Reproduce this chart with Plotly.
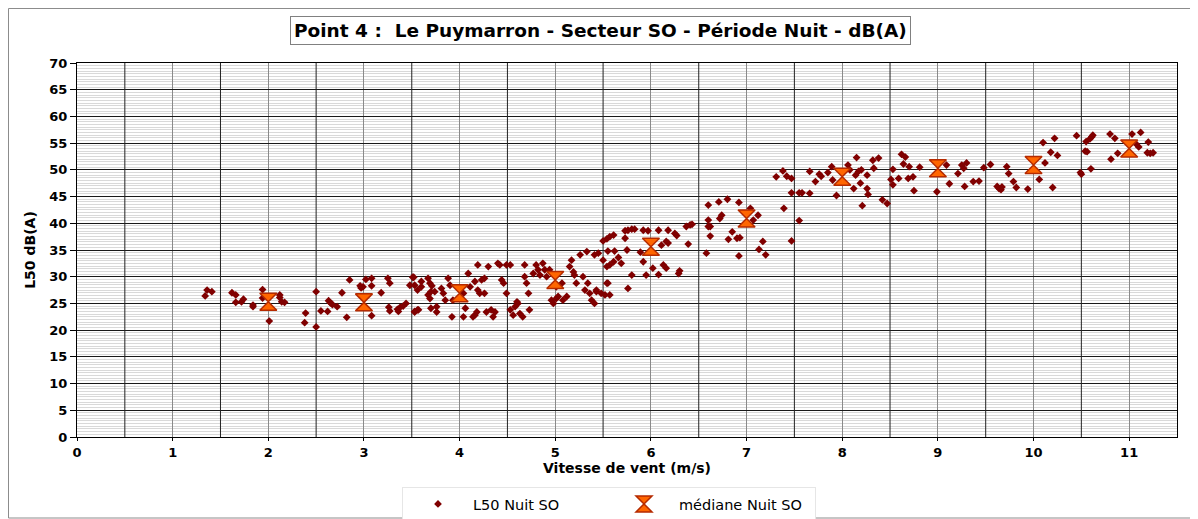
import plotly.graph_objects as go

# ---- data -------------------------------------------------------------
l50_x = [
    1.34, 1.36, 1.41, 1.62, 1.66, 1.66, 1.72, 1.74, 1.84, 1.84, 1.94, 1.94, 2.01, 2.12, 2.12, 2.14, 2.17,
    2.39, 2.38, 2.50, 2.50, 2.55, 2.62, 2.63, 2.65, 2.67, 2.72, 2.77, 2.82, 2.85, 2.96, 2.97, 2.99,
    3.02, 3.08, 3.08, 3.08, 3.18, 3.25, 3.27, 3.26, 3.27, 3.35, 3.36, 3.38, 3.41, 3.44, 3.48, 3.51, 3.53, 3.57,
    3.52, 3.53, 3.56, 3.60, 3.53, 3.56, 3.60, 3.67, 3.69, 3.71, 3.70, 3.67, 3.69, 3.70, 3.76, 3.76, 3.74,
    3.81, 3.83, 3.85, 3.88, 3.90, 3.92, 3.93, 4.04, 4.06, 4.04, 4.09, 4.11, 4.14, 4.16, 4.18, 4.16, 4.19,
    4.19, 4.21, 4.23, 4.26, 4.26, 4.28, 4.30, 4.33, 4.35, 4.37, 4.40, 4.42, 4.44, 4.46, 4.49, 4.53, 4.49,
    4.53, 4.56, 4.58, 4.60, 4.61, 4.63, 4.66, 4.68, 4.68, 4.70, 4.72, 4.73, 4.77, 4.80, 4.82, 4.84, 4.87,
    4.89, 4.91, 4.94, 4.96, 4.98, 5.01, 5.03, 5.01, 5.07, 5.08, 5.12, 5.15, 5.17, 5.19, 5.20, 5.22, 5.26,
    5.29, 5.31, 5.33, 5.34, 5.36, 5.38, 5.41, 5.43, 5.48, 5.50, 5.54, 5.41, 5.45,
    5.50, 5.54, 5.57, 5.61, 5.62, 5.55, 5.73, 5.76, 5.80, 5.83, 5.73, 5.92, 5.97, 6.08, 6.18, 6.25, 6.27,
    6.37, 6.41, 6.43, 5.75, 5.89, 6.11, 6.16, 6.18, 6.39, 5.66, 5.61, 5.69, 5.57, 5.54, 5.92, 6.02, 6.13,
    6.16, 6.29, 6.30, 5.80, 5.95, 6.08, 5.55, 5.76, 5.52, 5.57, 5.43,
    6.58, 6.60, 6.60, 6.60, 6.62, 6.62, 6.71, 6.72, 6.74, 6.80, 6.81, 6.85, 6.90, 6.93, 6.92, 6.92, 7.04,
    7.07, 7.12, 7.17, 7.13, 7.20, 7.31, 7.38, 7.42, 7.47, 7.39, 7.47, 7.47, 7.55, 7.55, 7.58, 7.66, 7.66,
    7.72, 7.76, 7.78, 7.85, 7.89, 7.90, 7.94, 8.06, 8.08, 8.12, 8.14, 8.17, 8.19, 8.20, 8.21, 8.26, 8.27,
    8.26, 8.33, 8.15, 8.32, 8.38, 8.42, 8.47, 8.51, 8.53, 8.53, 8.59, 8.64, 8.70, 8.69, 8.74, 8.75, 8.81,
    8.62, 8.66, 8.99,
    9.09, 9.12, 9.21, 9.25, 9.27, 9.30, 9.28, 9.37, 9.43, 9.48, 9.55, 9.62, 9.64, 9.66, 9.67, 9.72, 9.74,
    9.79, 9.82, 9.94, 10.06, 10.10, 10.12, 10.18, 10.20, 10.22, 10.25, 10.45, 10.49, 10.50, 10.54, 10.56,
    10.55, 10.59, 10.61, 10.62, 10.60, 10.80, 10.81, 10.85, 10.88, 11.03, 11.07, 11.10, 11.12, 11.20,
    11.19, 11.22, 11.25,
]
l50_y = [
    26.4, 27.5, 27.2, 27.0, 26.6, 25.2, 25.3, 25.8, 24.7, 24.4, 27.6, 26.0, 21.7, 26.6, 26.1, 25.3, 25.2,
    23.2, 21.4, 27.2, 20.6, 23.6, 23.5, 25.5, 25.1, 24.8, 24.4, 27.0, 22.4, 29.4, 28.3, 27.9, 28.1,
    29.5, 29.7, 28.3, 22.7, 27.0, 29.7, 28.8, 24.3, 23.6, 23.9, 23.5, 24.3, 24.5, 25.0, 28.4, 29.9, 23.5, 23.8,
    29.9, 28.4, 27.5, 28.1, 23.4, 23.8, 29.1, 29.7, 28.8, 28.3, 27.2, 26.6, 25.9, 24.1, 23.4, 24.4, 27.2,
    27.8, 26.9, 25.6, 29.7, 28.4, 22.5, 25.6, 26.9, 24.1, 22.5, 30.6, 28.1, 22.5, 22.8, 23.4, 29.1, 32.2,
    27.5, 26.9, 29.4, 29.7, 26.9, 23.4, 31.9, 23.8, 22.5, 23.4, 32.5, 32.2, 29.4, 28.8, 32.2, 32.2, 26.9,
    23.8, 22.8, 24.4, 25.3, 25.0, 23.1, 22.5, 32.2, 30.0, 28.8, 26.9, 23.8, 30.6, 32.2, 31.3, 30.3, 32.5,
    31.3, 30.0, 31.3, 25.6, 25.0, 25.9, 26.3, 28.1, 28.8, 25.6, 26.3, 31.9, 33.1, 30.9, 30.3, 28.8, 34.1,
    30.0, 27.5, 34.7, 28.8, 26.9, 25.6, 25.0, 27.2, 26.9, 33.1, 28.8, 34.1, 34.4,
    36.7, 37.1, 37.5, 37.8, 34.8, 34.8, 38.6, 38.7, 38.9, 38.9, 37.2, 38.7, 38.6, 38.7, 38.7, 38.1, 37.7,
    39.4, 39.7, 39.8, 35.0, 34.6, 35.9, 36.6, 36.3, 36.1, 33.6, 32.8, 32.5, 32.2, 31.9, 32.8, 31.6, 32.2,
    31.6, 30.6, 31.1, 30.3, 30.3, 30.4, 28.8, 27.8, 26.6, 26.6, 27.5,
    34.4, 43.4, 40.6, 39.4, 39.4, 37.6, 44.0, 40.9, 41.5, 44.5, 37.0, 38.4, 37.2, 37.3, 43.9, 33.9, 42.8,
    40.6, 41.5, 36.6, 35.1, 34.1, 48.7, 49.8, 48.8, 48.4, 42.8, 45.7, 36.7, 40.5, 45.7, 45.7, 49.7, 45.6,
    47.8, 49.2, 48.8, 49.5, 50.6, 48.1, 45.2, 50.9, 50.0, 46.5, 49.0, 49.7, 47.5, 50.0, 43.3, 46.5, 45.4,
    49.0, 50.3, 52.3, 51.8, 52.2, 44.4, 43.7, 48.2, 47.2, 50.1, 48.4, 51.1, 50.6, 48.4, 48.7, 46.1, 50.5,
    52.9, 52.4, 45.9,
    50.9, 47.4, 49.3, 50.9, 50.3, 51.3, 46.9, 47.8, 47.9, 50.4, 51.0, 46.9, 46.5, 46.3, 46.8, 50.6, 49.3,
    47.8, 46.7, 46.4, 48.2, 55.1, 51.3, 53.3, 46.7, 55.9, 52.7, 56.4, 49.5, 49.2, 53.5, 53.4,
    55.3, 55.8, 56.2, 56.5, 50.2, 56.7, 52.0, 55.9, 53.1, 56.7, 54.9, 54.3, 57.0, 55.2,
    53.2, 53.1, 53.2,
]

median_x = [2, 3, 4, 5, 6, 7, 8, 9, 10, 11]
median_y = [25.3, 25.2, 26.9, 29.4, 35.6, 40.9, 48.7, 50.3, 50.9, 54.0]

title_text = "Point 4 :  Le Puymarron - Secteur SO - Période Nuit - dB(A)"
x_title = "Vitesse de vent (m/s)"
y_title = "L50 dB(A)"
x_ticks = list(range(0, 12))
y_ticks = list(range(0, 75, 5))
x_half_grid = [0.5, 1.5, 2.5, 3.5, 4.5, 5.5, 6.5, 7.5, 8.5, 9.5, 10.5]

# ---- figure -----------------------------------------------------------
FONT = "DejaVu Sans"

fig = go.Figure()
fig.add_trace(go.Scatter(
    x=l50_x, y=l50_y, mode="markers", name="L50 Nuit SO",
    marker=dict(symbol="diamond", size=6, color="#800000", line=dict(width=0)),
))
fig.add_trace(go.Scatter(
    x=median_x, y=median_y, mode="markers", name="médiane Nuit SO",
    marker=dict(symbol="hourglass", size=17, color="#ff6600",
                line=dict(color="#b52a00", width=1.5)),
))

# the page body has an 8 px default margin, so the figure is placed at (8, 8)
OFF = 8
W, H = 1198 - OFF, 519 - OFF
L, R, T, B = 77 - OFF, 21, 63 - OFF, 82
pw, ph = W - L - R, H - T - B


def px_x(page_x):
    return (page_x - OFF - L) / pw


def px_y(page_y):
    return (H - B - (page_y - OFF)) / ph


fig.update_layout(
    width=W, height=H,
    margin=dict(l=L, r=R, t=T, b=B, autoexpand=False),
    paper_bgcolor="white", plot_bgcolor="white",
    font=dict(family=FONT, color="black"),
    showlegend=True,
    legend=dict(
        orientation="h", x=px_x(609), xanchor="center", y=px_y(487), yanchor="top",
        bordercolor="#e6e6e6", borderwidth=1, bgcolor="white",
        font=dict(family=FONT, size=14.5, color="black"),
        entrywidth=131, itemwidth=60, itemsizing="trace",
    ),
    xaxis=dict(
        range=[0, 11.5], tickvals=x_ticks, ticktext=["<b>%d</b>" % v for v in x_ticks],
        tickfont=dict(family=FONT, size=13, color="black"),
        ticks="outside", ticklen=3, tickcolor="black",
        showline=True, linecolor="black", linewidth=1, mirror=True,
        showgrid=True, gridcolor="#8a8a8a", gridwidth=1,
        minor=dict(showgrid=False),
        zeroline=False, automargin=False,
        title=dict(text="<b>" + x_title + "</b>", font=dict(family=FONT, size=14, color="black"), standoff=4),
    ),
    yaxis=dict(
        range=[0, 70], tickvals=y_ticks, ticktext=["<b>%d</b>" % v for v in y_ticks],
        tickfont=dict(family=FONT, size=13, color="black"),
        ticks="outside", ticklen=6, tickcolor="black",
        showline=True, linecolor="black", linewidth=1, mirror=True,
        showgrid=True, gridcolor="#1a1a1a", gridwidth=1,
        minor=dict(dtick=0.5, tick0=0, showgrid=True, gridcolor="#d9d9d9", gridwidth=1),
        zeroline=False, automargin=False,
        title=dict(text="<b>" + y_title + "</b>", font=dict(family=FONT, size=14, color="black"), standoff=10),
    ),
)

# darker vertical grid lines at the half-integer wind speeds (drawn over minor grid)
for xv in x_half_grid:
    fig.add_shape(type="line", xref="x", yref="y", x0=xv, x1=xv, y0=0, y1=70,
                  line=dict(color="#222222", width=1), layer="between")

# boxed title
fig.add_annotation(
    text="<b>" + title_text + "</b>", xref="paper", yref="paper",
    x=px_x(600), y=px_y(30.5), xanchor="center", yanchor="middle", showarrow=False,
    font=dict(family=FONT, size=18.5, color="black"),
    bordercolor="#808080", borderwidth=1, borderpad=3, bgcolor="white",
)

# outer chart frame
fig.add_shape(type="rect", xref="paper", yref="paper",
              x0=px_x(OFF + 0.5), x1=px_x(1192.5), y0=px_y(518), y1=px_y(OFF + 0.5),
              line=dict(color="#8c8c8c", width=1), fillcolor="rgba(0,0,0,0)", layer="below")

fig.write_html("out.html")
